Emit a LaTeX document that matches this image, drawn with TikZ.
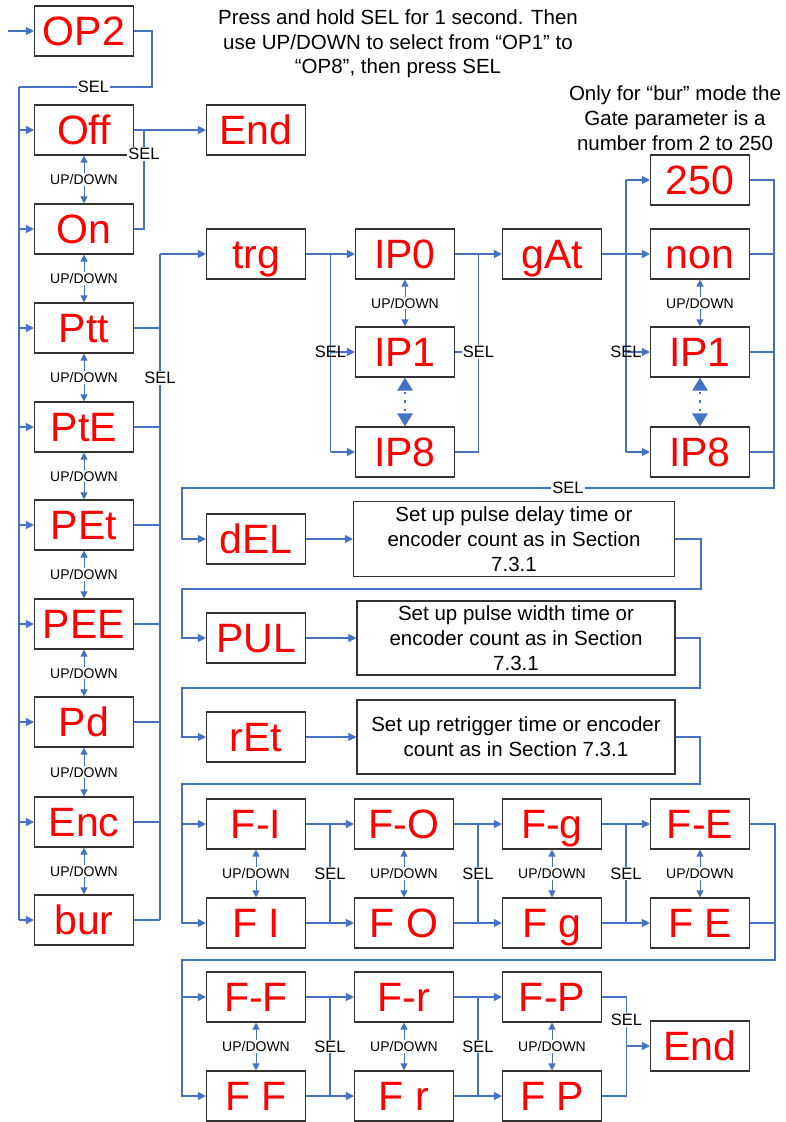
\documentclass[tikz,border=0pt]{standalone}
\usepackage{fontspec}
\setmainfont{Liberation Sans}
\usetikzlibrary{arrows.meta}
\usetikzlibrary{calc}
\definecolor{wireblue}{RGB}{68,114,196}
\definecolor{segred}{RGB}{255,0,0}
\tikzset{
  disp/.style={draw=black!80, line width=1.1pt, minimum width=99pt, minimum height=50pt,
    inner sep=0pt, text height=29pt, text depth=0pt, text=segred, font=\fontsize{41}{41}\selectfont},
  note/.style={draw=black!80, line width=1.1pt, inner sep=0pt, align=center,
    font=\fontsize{20.5}{25}\selectfont},
  wire/.style={draw=wireblue, line width=1.2pt},
  feed/.style={wire, -{Triangle[length=8pt,width=8pt]}},
  updown/.style={wire, line width=1pt, {Triangle[length=7pt,width=7pt]}-{Triangle[length=7pt,width=7pt]}},
  skip/.style={draw=wireblue, line width=2.5pt, dash pattern=on 2.5pt off 6pt, dash phase=-2pt,
    {Triangle[length=13pt,width=15pt]}-{Triangle[length=13pt,width=15pt]}},
  sel/.style={font=\fontsize{16.5}{16.5}\selectfont, inner sep=1pt},
  selw/.style={sel, fill=white},
  ud/.style={font=\fontsize{14}{14}\selectfont, fill=white, inner sep=1pt}
}

\begin{document}
\begin{tikzpicture}[x=1pt, y=-1pt]
  \useasboundingbox (0,0) rectangle (786,1122);
  % notes
  \node[align=center, font=\fontsize{20.5}{24.5}\selectfont] (hint) at (398,44)
    {Press and hold SEL for 1 second. Then\\use UP/DOWN to select from “OP1” to\\“OP8”, then press SEL};
  \node[align=center, font=\fontsize{20.5}{25}\selectfont] (gateNote) at (675,118)
    {Only for “bur” mode the\\Gate parameter is a\\number from 2 to 250};
  % mode list
  \node[disp] (op2) at (84,31) {OP2};
  \node[disp] (off) at (84,130) {Off};
  \node[disp] (on) at (84,229) {On};
  \node[disp] (ptt) at (84,328) {Ptt};
  \node[disp] (pte) at (84,427) {PtE};
  \node[disp] (pet) at (84,525) {PEt};
  \node[disp] (pee) at (84,624) {PEE};
  \node[disp] (pd) at (84,722) {Pd};
  \node[disp] (enc) at (84,822) {Enc};
  \node[disp] (bur) at (84,920) {bur};
  \node[disp] (endA) at (256,130) {End};
  % trigger and gate
  \node[disp] (trg) at (256,254) {trg};
  \node[disp] (ipO) at (405,254) {IP0};
  \node[disp] (ipA) at (405,352) {IP1};
  \node[disp] (ipH) at (405,452) {IP8};
  \node[disp] (gat) at (552,254) {gAt};
  \node[disp] (gTop) at (700,180) {250};
  \node[disp] (gNon) at (700,254) {non};
  \node[disp] (gIpA) at (700,352) {IP1};
  \node[disp] (gIpH) at (700,452) {IP8};
  % timing
  \node[disp] (del) at (256,539) {dEL};
  \node[note, minimum width=321, minimum height=75] (dDel) at (514,539)
    {Set up pulse delay time or\\encoder count as in Section\\7.3.1};
  \node[disp] (pul) at (256,638) {PUL};
  \node[note, minimum width=318, minimum height=74] (dPul) at (516,638)
    {Set up pulse width time or\\encoder count as in Section\\7.3.1};
  \node[disp] (ret) at (256,737) {rEt};
  \node[note, minimum width=318, minimum height=74] (dRet) at (516,737)
    {Set up retrigger time or encoder\\count as in Section 7.3.1};
  % filters
  \node[disp] (fI1) at (256,824) {F-I};
  \node[disp] (fI2) at (256,923) {F I};
  \node[disp] (fO1) at (404,824) {F-O};
  \node[disp] (fO2) at (404,923) {F O};
  \node[disp] (fg1) at (552,824) {F-g};
  \node[disp] (fg2) at (552,923) {F g};
  \node[disp] (fE1) at (700,824) {F-E};
  \node[disp] (fE2) at (700,923) {F E};
  \node[disp] (fF1) at (256,997) {F-F};
  \node[disp] (fF2) at (256,1096) {F F};
  \node[disp] (fr1) at (404,997) {F-r};
  \node[disp] (fr2) at (404,1096) {F r};
  \node[disp] (fP1) at (552,997) {F-P};
  \node[disp] (fP2) at (552,1096) {F P};
  \node[disp] (endB) at (700,1046) {End};

  % bus corners
  \coordinate (inA) at (8,31);
  \coordinate (busL) at (19,87);
  \coordinate (offJ) at (144,130);
  \coordinate (busR) at (160,254);
  \coordinate (jA) at ($(trg.east)!.5!(ipO.west)$);
  \coordinate (jB) at ($(ipO.east)!.5!(gat.west)$);
  \coordinate (jC) at ($(gat.east)!.5!(gNon.west)$);
  \coordinate (jD) at (774,488);
  \coordinate (jE) at (182,488);
  \coordinate (kA) at (701,589);
  \coordinate (kB) at (700,688);
  \coordinate (kC) at (700,784);
  \coordinate (kD) at (775,960);
  \coordinate (kE) at (626.5,1046);

  % mode selection
  \draw[feed] (inA) -- (op2);
  \draw[wire] (op2.east) -- ++(18,0) |- (busL) node[selw, pos=0.72] {SEL};
  \draw[wire] (busL) -- (busL |- bur);
  \foreach \n in {off,on,ptt,pte,pet,pee,pd,enc,bur}
    \draw[feed] (busL |- \n) -- (\n);
  \foreach \a/\b in {off/on,on/ptt,ptt/pte,pte/pet,pet/pee,pee/pd,pd/enc,enc/bur}
    \draw[updown] (\a) -- (\b) node[ud, midway] {UP/DOWN};
  \draw[feed] (off.east) -- (endA);
  \draw[wire] (on.east) -| (offJ) node[selw, pos=0.88] {SEL};
  \foreach \n in {ptt,pte,pet,pee,pd,enc,bur}
    \draw[wire] (\n.east) -- (busR |- \n);
  \draw[wire] (busR |- bur) -- (busR) node[selw, pos=0.814] {SEL};
  \draw[feed] (busR) -- (trg);

  % trigger inputs
  \draw[feed] (trg) -- (ipO);
  \draw[wire] (jA) -- (jA |- ipH);
  \draw[feed] (jA |- ipA) -- (ipA);
  \draw[feed] (jA |- ipH) -- (ipH);
  \node[sel] at (jA |- ipA) {SEL};
  \draw[updown] (ipO) -- (ipA) node[ud, midway] {UP/DOWN};
  \draw[skip] (ipA) -- (ipH);
  \draw[feed] (ipO) -- (gat);
  \draw[wire] (ipA.east) -- (jB |- ipA);
  \draw[wire] (ipH.east) -| (jB);
  \node[selw] at (jB |- ipA) {SEL};

  % gate
  \draw[wire] (gat.east) -- (jC);
  \draw[wire] (jC |- gTop) -- (jC |- gIpH);
  \foreach \n in {gTop,gNon,gIpA,gIpH}
    \draw[feed] (jC |- \n) -- (\n);
  \node[sel] at (jC |- gIpA) {SEL};
  \draw[updown] (gNon) -- (gIpA) node[ud, midway] {UP/DOWN};
  \draw[skip] (gIpA) -- (gIpH);
  \foreach \n in {gNon,gIpA,gIpH}
    \draw[wire] (\n.east) -- (jD |- \n);
  \draw[feed] (gTop.east) -| (jD) -- (jE) node[selw, pos=0.348] {SEL} |- (del);

  % timing chain
  \draw[feed] (del) -- (dDel);
  \draw[feed] (dDel.east) -| (kA) -- (kA -| jE) |- (pul);
  \draw[feed] (pul) -- (dPul);
  \draw[feed] (dPul.east) -| (kB) -- (kB -| jE) |- (ret);
  \draw[feed] (ret) -- (dRet);
  \draw[feed] (dRet.east) -| (kC) -- (kC -| jE) |- (fI2);
  \draw[feed] (jE |- fI1) -- (fI1);

  % filters
  \foreach \a/\b in {fI/fO,fO/fg,fg/fE,fF/fr,fr/fP} {
    \draw[feed] (\a1) -- (\b1);
    \draw[feed] (\a2) -- (\b2);
    \draw[wire] ($(\a1.east)!.5!(\b1.west)$) -- ($(\a2.east)!.5!(\b2.west)$) node[selw, midway] {SEL};
  }
  \foreach \a in {fI,fO,fg,fE,fF,fr,fP}
    \draw[updown] (\a1) -- (\a2) node[ud, midway] {UP/DOWN};
  \draw[wire] (fE2.east) -- (kD |- fE2);
  \draw[feed] (fE1.east) -| (kD) -- (kD -| jE) |- (fF2);
  \draw[feed] (jE |- fF1) -- (fF1);
  \draw[wire] (fP1.east) -| (kE);
  \draw[wire] (fP2.east) -| (kE);
  \draw[feed] (kE) -- (endB);
  \node[selw] at (626.5,1020) {SEL};
\end{tikzpicture}
\end{document}
